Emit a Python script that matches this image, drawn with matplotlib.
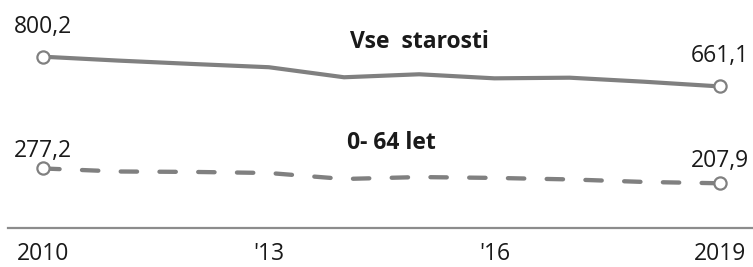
import matplotlib
matplotlib.use("Agg")
import matplotlib.pyplot as plt

years = [2010, 2011, 2012, 2013, 2014, 2015, 2016, 2017, 2018, 2019]
vse_starosti = [800.2, 782, 766, 751, 704, 718, 699, 702, 683, 661.1]
do_64_let = [277.2, 263, 261, 256, 228, 237, 233, 226, 214, 207.9]
tick_years = [2010, 2013, 2016, 2019]
tick_labels = ["2010", "'13", "'16", "2019"]
series_names = ["Vse  starosti", "0- 64 let"]

plt.rcParams['font.family'] = ['Open Sans', 'DejaVu Sans']

W, H = 753, 267
fig = plt.figure(figsize=(W / 100, H / 100), dpi=100)
ax = fig.add_axes([8 / W, (H - 227.7) / H, 745 / W, (227.7 - 10) / H])

gray = '#808080'
txt = '#1a1a1a'

ax.plot(years, vse_starosti, color=gray, lw=3.0, solid_capstyle='round',
        solid_joinstyle='round', zorder=2)
ax.plot(years, do_64_let, color=gray, lw=3.1, dashes=(3.8, 5.2),
        dash_capstyle='round', zorder=2)

for s in (vse_starosti, do_64_let):
    ax.plot([years[0], years[-1]], [s[0], s[-1]], ls='none', marker='o',
            ms=8.8, mfc='white', mec=gray, mew=1.6, zorder=3)

def fmt(v):
    return f"{v:.1f}".replace('.', ',')

offs = {(0, 0): 16.8, (0, 1): 17.3, (1, 0): 8.6, (1, 1): 11.5}
for i, s in enumerate((vse_starosti, do_64_let)):
    for j, idx in enumerate((0, -1)):
        ax.annotate(fmt(s[idx]), xy=(years[idx], s[idx]), xytext=(0, offs[(i, j)]),
                    textcoords='offset points', ha='center', va='baseline',
                    fontsize=16.5, color=txt)

ax.text(2015.0, 839.6, series_names[0], ha='center', va='baseline',
        fontsize=16.5, fontweight='bold', color=txt)
ax.text(2014.63, 367, series_names[1], ha='center', va='baseline',
        fontsize=16.5, fontweight='bold', color=txt)

ax.set_xlim(2009.531, 2019.439)
ax.set_ylim(0, 1018.8)
for sp in ('top', 'right', 'left'):
    ax.spines[sp].set_visible(False)
ax.spines['bottom'].set_color('#8c8c8c')
ax.spines['bottom'].set_linewidth(1.6)
ax.set_yticks([])
ax.set_xticks(tick_years)
ax.set_xticklabels(tick_labels, fontsize=16.5, color=txt)
ax.tick_params(axis='x', length=0, pad=10.5)

fig.savefig('out.png', dpi=100)
